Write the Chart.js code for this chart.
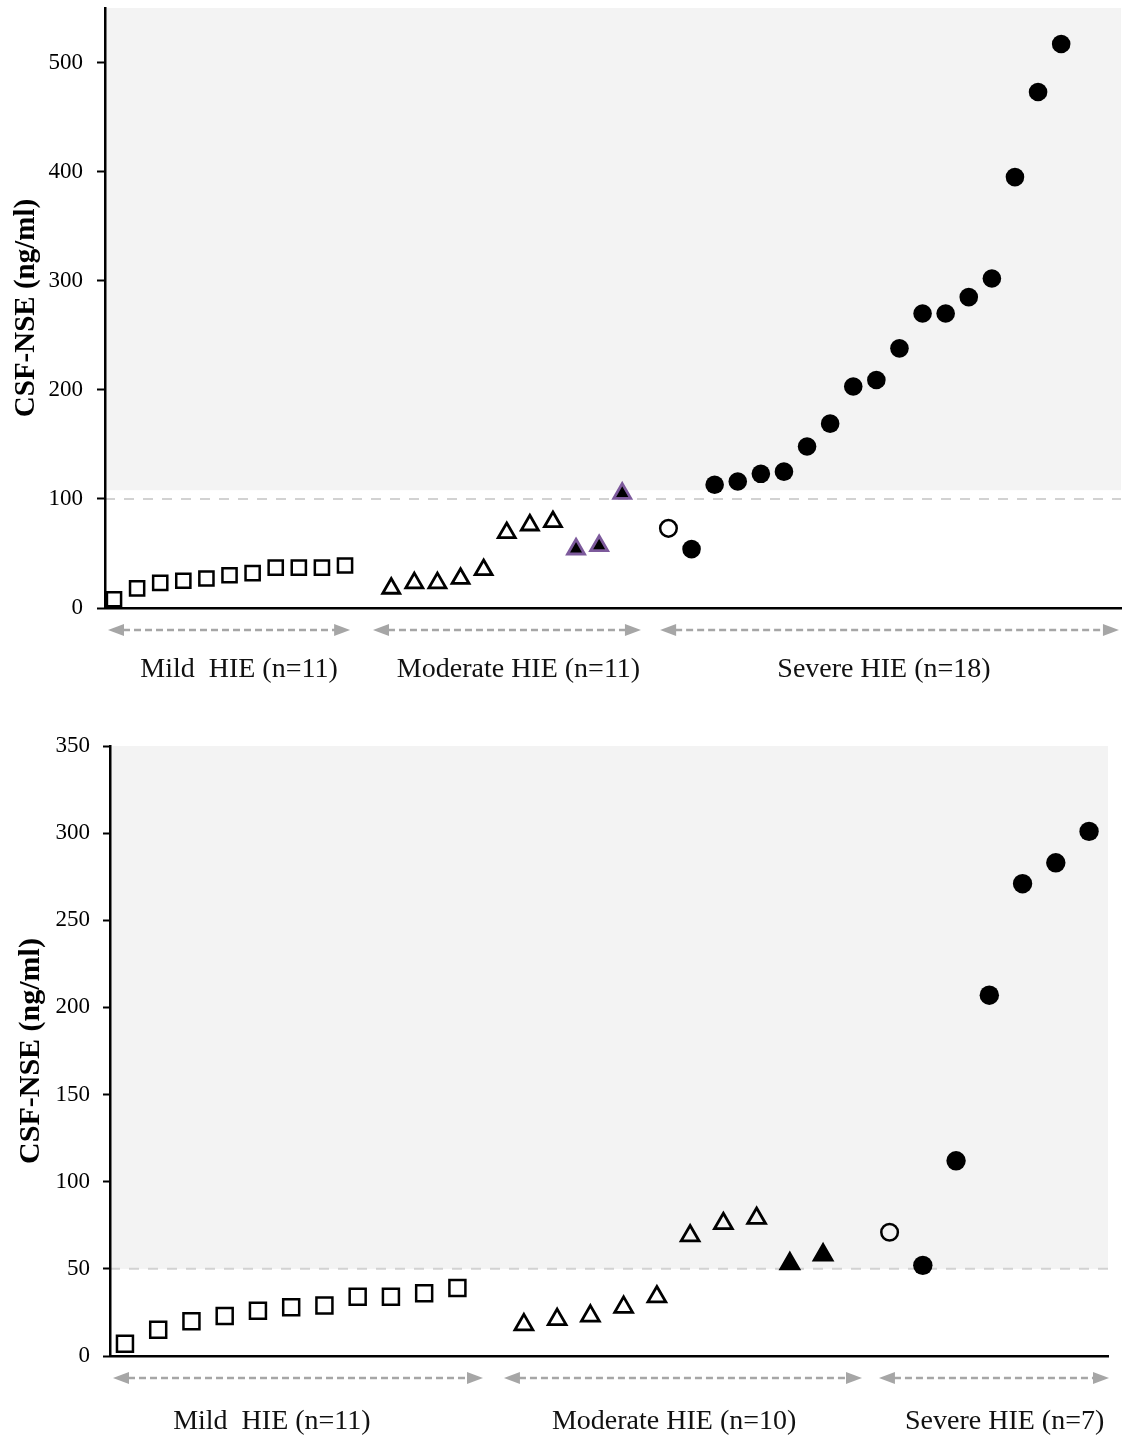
<!DOCTYPE html>
<html><head><meta charset="utf-8">
<script src="https://cdn.jsdelivr.net/npm/chart.js@4.4.0/dist/chart.umd.min.js"></script>
<style>
html,body{margin:0;padding:0;background:#fff;}
#wrap{position:relative;width:1128px;height:1437px;}
.box{position:absolute;left:0;width:1128px;}
</style></head><body>
<div id="wrap">
<div class="box" style="top:0;height:700px"><canvas id="c1"></canvas></div>
<div class="box" style="top:700px;height:737px"><canvas id="c2"></canvas></div>
</div>
<script>
// ---------- data ----------
const yTitle = 'CSF-NSE (ng/ml)';

const topTicks = [0, 100, 200, 300, 400, 500];
const topMild = [8, 18, 23, 25, 27, 30, 32, 37, 37, 37, 39];
const topModerateOpen = [18, 23, 23, 27, 35, 69, 76, 79];
const topModerateFilled = [54, 57, 105];
const topSevereOpen = [73];
const topSevereFilled = [54, 113, 116, 123, 125, 148, 169, 203, 209, 238, 270, 270, 285, 302, 395, 473, 517];
const topGroups = ['Mild  HIE (n=11)', 'Moderate HIE (n=11)', 'Severe HIE (n=18)'];
const topCutoff = 100;

const botTicks = [0, 50, 100, 150, 200, 250, 300, 350];
const botMild = [7, 15, 20, 23, 26, 28, 29, 34, 34, 36, 39];
const botModerateOpen = [18, 21, 23, 28, 34, 69, 76, 79];
const botModerateFilled = [53, 58];
const botSevereOpen = [71];
const botSevereFilled = [52, 112, 207, 271, 283, 301];
const botGroups = ['Mild  HIE (n=11)', 'Moderate HIE (n=10)', 'Severe HIE (n=7)'];
const botCutoff = 50;

// ---------- helpers ----------
const FONT = 'Liberation Serif';
function seq(values, start) { return values.map((v, i) => ({ x: start + i, y: v })); }

function buildDatasets(mild, modOpen, modFilled, sevOpen, sevFilled, st) {
  const mildStart = 1;
  const modStart = mildStart + mild.length + 1;
  const sevStart = modStart + modOpen.length + modFilled.length + 1;
  const base = { pointBorderColor: '#000', pointBorderWidth: 2.5, pointBackgroundColor: 'rgba(0,0,0,0)', showLine: false };
  return [
    Object.assign({}, base, { label: 'mild', data: seq(mild, mildStart), pointStyle: 'rect', pointRadius: st.sq }),
    Object.assign({}, base, { label: 'modOpen', data: seq(modOpen, modStart), pointStyle: 'triangle', pointRadius: st.tri, pointBorderWidth: 2.8 }),
    Object.assign({}, base, { label: 'modFilled', data: seq(modFilled, modStart + modOpen.length), pointStyle: 'triangle', pointRadius: st.tri,
      pointBackgroundColor: '#000', pointBorderColor: st.filledTriBorder, pointBorderWidth: 2.8 }),
    Object.assign({}, base, { label: 'sevOpen', data: seq(sevOpen, sevStart), pointStyle: 'circle', pointRadius: st.openCirc }),
    Object.assign({}, base, { label: 'sevFilled', data: seq(sevFilled, sevStart + sevOpen.length), pointStyle: 'circle', pointRadius: st.circ,
      pointBackgroundColor: '#000', pointBorderWidth: 0 })
  ];
}

const decor = {
  id: 'decor',
  beforeDraw(chart, args, o) {
    const { ctx, chartArea: a, scales: { y } } = chart;
    ctx.save();
    const ys = y.getPixelForValue(o.shadeFrom);
    ctx.fillStyle = '#f3f3f3';
    ctx.fillRect(a.left, a.top, a.right - a.left, ys - a.top);
    const yl = y.getPixelForValue(o.cutoff);
    ctx.strokeStyle = '#d2d2d2'; ctx.lineWidth = 2; ctx.setLineDash([10, 9]);
    ctx.beginPath(); ctx.moveTo(a.left, yl); ctx.lineTo(a.right, yl); ctx.stroke();
    ctx.restore();
  },
  afterDraw(chart, args, o) {
    const { ctx, chartArea: a, scales: { x } } = chart;
    ctx.save();
    const ay = a.bottom + o.arrowGap;
    const col = '#a6a6a6';
    o.spans.forEach((s, i) => {
      const x0 = x.getPixelForValue(s[0]), x1 = x.getPixelForValue(s[1]);
      ctx.strokeStyle = col; ctx.lineWidth = 2.5; ctx.setLineDash([7, 4]);
      ctx.beginPath(); ctx.moveTo(x0 + 15, ay); ctx.lineTo(x1 - 15, ay); ctx.stroke();
      ctx.setLineDash([]);
      ctx.fillStyle = col;
      ctx.beginPath(); ctx.moveTo(x0, ay); ctx.lineTo(x0 + 16, ay - 6); ctx.lineTo(x0 + 16, ay + 6); ctx.closePath(); ctx.fill();
      ctx.beginPath(); ctx.moveTo(x1, ay); ctx.lineTo(x1 - 16, ay - 6); ctx.lineTo(x1 - 16, ay + 6); ctx.closePath(); ctx.fill();
      ctx.fillStyle = '#111';
      ctx.font = '28px "' + FONT + '"';
      ctx.textAlign = 'center'; ctx.textBaseline = 'alphabetic';
      ctx.fillText(o.labels[i], x.getPixelForValue(o.labelAt[i]), a.bottom + o.labelGap);
    });
    ctx.restore();
  }
};

function noPad(s) { s.paddingTop = 0; s.paddingBottom = 0; s.paddingLeft = 0; s.paddingRight = 0; }

function makeChart(id, cfg) {
  return new Chart(document.getElementById(id), {
    type: 'scatter',
    data: { datasets: cfg.datasets },
    plugins: [decor],
    options: {
      responsive: true, maintainAspectRatio: false, animation: false, events: [],
      layout: { padding: cfg.padding, autoPadding: false },
      plugins: {
        legend: { display: false }, tooltip: { enabled: false },
        decor: cfg.decor
      },
      scales: {
        x: {
          type: 'linear', min: cfg.xMin, max: cfg.xMax,
          afterFit: s => { s.height = cfg.xHeight; noPad(s); },
          ticks: { display: false },
          grid: { display: false },
          border: { color: '#000', width: 2.5 }
        },
        y: {
          min: 0, max: cfg.yMax,
          afterBuildTicks: s => { s.ticks = cfg.ticks.map(v => ({ value: v })); },
          afterFit: s => { s.width = cfg.yWidth; noPad(s); },
          ticks: { color: '#000', font: { family: FONT, size: 23 }, padding: cfg.tickPad },
          grid: { drawOnChartArea: false, drawTicks: true, tickLength: cfg.tickLen, tickColor: '#000', tickWidth: 2 },
          border: { color: '#000', width: 2.5 },
          title: { display: true, text: yTitle, color: '#000',
            font: { family: FONT, size: cfg.titleSize, weight: 'bold' }, padding: { top: cfg.titlePad, bottom: 0 } }
        }
      }
    }
  });
}

makeChart('c1', {
  datasets: buildDatasets(topMild, topModerateOpen, topModerateFilled, topSevereOpen, topSevereFilled,
    { sq: 10, tri: 9.8, circ: 9.3, openCirc: 8.3, filledTriBorder: '#7d5a9c' }),
  padding: { top: 8, right: 7, left: 0, bottom: 0 },
  xMin: 0.61, xMax: 44.59, xHeight: 92,
  yMax: 550, ticks: topTicks, yWidth: 105, tickPad: 14, tickLen: 8, titleSize: 29, titlePad: 9,
  decor: { shadeFrom: 108, cutoff: topCutoff, arrowGap: 22, labelGap: 69,
    spans: [[0.74, 11.22], [12.21, 23.81], [24.64, 44.5]], labels: topGroups, labelAt: [6.41, 18.51, 34.33] }
});

makeChart('c2', {
  datasets: buildDatasets(botMild, botModerateOpen, botModerateFilled, botSevereOpen, botSevereFilled,
    { sq: 11.3, tri: 10.3, circ: 9.7, openCirc: 8.3, filledTriBorder: '#000' }),
  padding: { top: 46, right: 20, left: 0, bottom: 0 },
  xMin: 0.55, xMax: 30.57, xHeight: 81,
  yMax: 350, ticks: botTicks, yWidth: 110, tickPad: 13, tickLen: 7, titleSize: 30, titlePad: 13,
  decor: { shadeFrom: botCutoff, cutoff: botCutoff, arrowGap: 22, labelGap: 73,
    spans: [[0.64, 11.77], [12.4, 23.17], [23.68, 30.6]], labels: botGroups, labelAt: [5.42, 17.52, 27.46] }
});
</script>
</body></html>
